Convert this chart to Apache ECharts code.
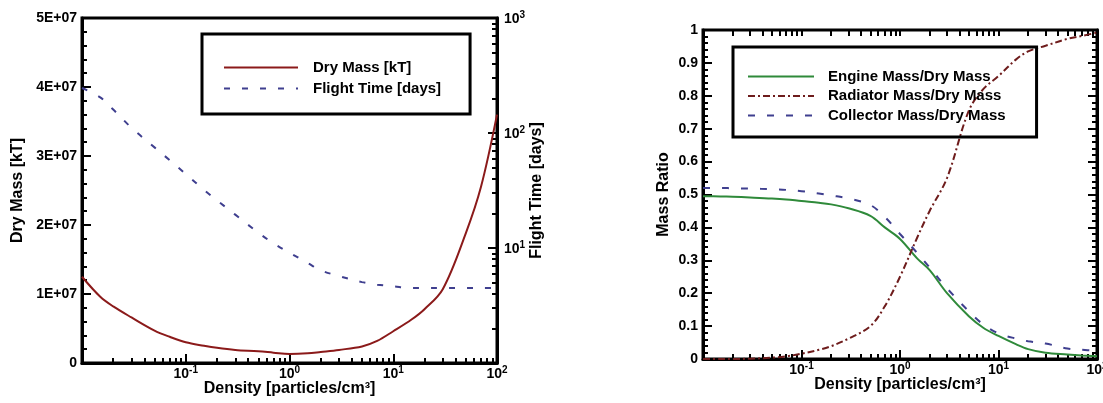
<!DOCTYPE html>
<html><head><meta charset="utf-8">
<script src="https://cdn.jsdelivr.net/npm/echarts@6/dist/echarts.min.js"></script>
<style>html,body{margin:0;padding:0;background:#fff}#c{width:1103px;height:403px}</style>
</head><body><div id="c"></div>
<script>
// ---------------- data ----------------
const density = [0.01,0.015,0.02,0.03,0.05,0.07,0.1,0.15,0.2,0.3,0.5,0.7,1,1.5,2,3,5,7,10,15,20,30,50,70,100];
// left chart
const dryMass = [1.25e7,0.96e7,0.82e7,0.66e7,0.47e7,0.38e7,0.30e7,0.25e7,0.22e7,0.19e7,0.17e7,0.15e7,0.13e7,0.14e7,0.16e7,0.19e7,0.24e7,0.32e7,0.46e7,0.63e7,0.78e7,1.07e7,1.88e7,2.55e7,3.6e7];
const flightTime = [246,204,160,111,75,58,44,32,26,19.5,13.6,11.0,9.1,7.4,6.4,5.7,5.05,4.8,4.65,4.5,4.5,4.5,4.5,4.5,4.5];
// right chart
const engineRatio = [0.495,0.494,0.493,0.491,0.488,0.485,0.48,0.475,0.47,0.458,0.435,0.40,0.365,0.305,0.27,0.20,0.13,0.095,0.07,0.045,0.03,0.019,0.014,0.011,0.008];
const radiatorRatio = [0,0,0,0.001,0.004,0.008,0.016,0.028,0.039,0.062,0.10,0.16,0.25,0.37,0.45,0.55,0.755,0.82,0.86,0.91,0.935,0.952,0.973,0.982,0.992];
const collectorRatio = [0.52,0.52,0.519,0.518,0.516,0.514,0.51,0.503,0.497,0.488,0.468,0.432,0.38,0.322,0.278,0.215,0.145,0.105,0.078,0.062,0.054,0.047,0.032,0.028,0.025];
// tick labels
const massTickLabels = ['0','1E+07','2E+07','3E+07','4E+07','5E+07'];
const legendLeft = ['Dry Mass [kT]','Flight Time [days]'];
const legendRight = ['Engine Mass/Dry Mass','Radiator Mass/Dry Mass','Collector Mass/Dry Mass'];

// ---------------- helpers ----------------
const FONT = '"Liberation Sans", Arial, sans-serif';
const pairs = (xs, ys) => xs.map((x, i) => [x, ys[i]]);
const supRich = {
  b: {fontFamily: FONT, fontWeight: 'bold', fontSize: 14, color: '#000', lineHeight: 16, verticalAlign: 'bottom'},
  s: {fontFamily: FONT, fontWeight: 'bold', fontSize: 10, color: '#000', lineHeight: 16, verticalAlign: 'top'}
};
const supFmt = v => '{b|10}{s|' + Math.round(Math.log10(v)) + '}';
const minorLog = (e0, e1) => { const r = []; for (let e = e0; e < e1; e++) for (let m = 2; m <= 9; m++) r.push(e + Math.log10(m)); return r; };
const AX = {color: '#000', width: 3};
const TK = {color: '#000', width: 2};
const labelStyle = {fontFamily: FONT, fontWeight: 'bold', fontSize: 14, color: '#000'};
const nameStyle = {fontFamily: FONT, fontWeight: 'bold', fontSize: 16, color: '#000'};
function tickOnly(gridIndex, min, max, position, values, len) {
  return {type: 'value', gridIndex, min, max, position, silent: true,
    axisLine: {show: false, onZero: false}, axisLabel: {show: false}, splitLine: {show: false},
    axisTick: {show: true, inside: true, length: len, customValues: values, lineStyle: TK}};
}
function logX(gridIndex) {
  return {type: 'log', gridIndex, min: 0.01, max: 100, position: 'bottom',
    axisLine: {show: true, onZero: false, lineStyle: AX}, splitLine: {show: false},
    axisTick: {show: true, inside: true, length: 9, lineStyle: TK},
    axisLabel: {formatter: supFmt, rich: supRich, margin: 2, showMinLabel: false},
    name: 'Density [particles/cm³]', nameLocation: 'middle', nameGap: 18, nameMoveOverlap: false, nameTextStyle: nameStyle};
}
const lineSeries = (name, xi, yi, ys, color, type) => ({
  name, type: 'line', xAxisIndex: xi, yAxisIndex: yi, data: pairs(density, ys),
  showSymbol: false, symbol: 'none', smooth: 0.35,
  lineStyle: {color, width: 2, type}, itemStyle: {color}
});
const legendBase = {orient: 'vertical', borderColor: '#000', borderWidth: 3,
  itemStyle: {opacity: 0}, lineStyle: {opacity: 1}};

const option = {
  animation: false,
  backgroundColor: '#fff',
  grid: [
    {left: 82, top: 18, width: 415, height: 345, show: true, borderColor: '#000', borderWidth: 3, outerBoundsMode: 'none'},
    {left: 703, top: 30, width: 394, height: 329, show: true, borderColor: '#000', borderWidth: 3, outerBoundsMode: 'none'}
  ],
  xAxis: [
    logX(0),
    tickOnly(0, -2, 2, 'bottom', minorLog(-2, 2), 5),
    logX(1),
    tickOnly(1, -2, 2, 'bottom', minorLog(-2, 2), 5),
    tickOnly(1, -2, 2, 'top', minorLog(-2, 2).concat([-1, 0, 1]), 6)
  ],
  yAxis: [
    {type: 'value', gridIndex: 0, min: 0, max: 5e7, interval: 1e7, position: 'left',
      axisLine: {show: true, onZero: false, lineStyle: AX}, splitLine: {show: false},
      axisTick: {show: true, inside: true, length: 9, lineStyle: TK},
      minorTick: {show: true, splitNumber: 5, length: 5, lineStyle: TK},
      axisLabel: Object.assign({margin: 5, formatter: v => massTickLabels[Math.round(v / 1e7)]}, labelStyle),
      name: 'Dry Mass [kT]', nameLocation: 'middle', nameGap: 56, nameRotate: 90, nameMoveOverlap: false, nameTextStyle: nameStyle},
    {type: 'log', gridIndex: 0, min: 1, max: 1000, position: 'right',
      axisLine: {show: true, onZero: false, lineStyle: AX}, splitLine: {show: false},
      axisTick: {show: true, inside: true, length: 9, lineStyle: TK},
      axisLabel: {formatter: supFmt, rich: supRich, margin: 7, showMinLabel: false},
      name: 'Flight Time [days]', nameLocation: 'middle', nameGap: 32, nameRotate: 90, nameMoveOverlap: false, nameTextStyle: nameStyle},
    tickOnly(0, 0, 3, 'right', minorLog(0, 3), 5),
    {type: 'value', gridIndex: 1, min: 0, max: 1, interval: 0.1, position: 'left',
      axisLine: {show: true, onZero: false, lineStyle: AX}, splitLine: {show: false},
      axisTick: {show: true, inside: true, length: 9, lineStyle: TK},
      minorTick: {show: true, splitNumber: 5, length: 5, lineStyle: TK},
      axisLabel: Object.assign({margin: 5, formatter: v => (v === 0 ? '0' : v === 1 ? '1' : v.toFixed(1))}, labelStyle),
      name: 'Mass Ratio', nameLocation: 'middle', nameGap: 31, nameRotate: 90, nameMoveOverlap: false, nameTextStyle: nameStyle},
    {type: 'value', gridIndex: 1, min: 0, max: 1, interval: 0.1, position: 'right',
      axisLine: {show: true, onZero: false, lineStyle: AX}, splitLine: {show: false},
      axisTick: {show: true, inside: true, length: 9, lineStyle: TK},
      minorTick: {show: true, splitNumber: 5, length: 5, lineStyle: TK},
      axisLabel: {show: false}}
  ],
  legend: [
    Object.assign({}, legendBase, {data: legendLeft, left: 202, top: 34, padding: [26, 29, 18, 21],
      itemWidth: 74, itemHeight: 14, itemGap: 6,
      textStyle: {fontFamily: FONT, fontWeight: 'bold', fontSize: 15, color: '#000', padding: [0, 0, 0, 10]}}),
    Object.assign({}, legendBase, {data: legendRight, left: 733, top: 47, padding: [22, 31, 14, 14],
      itemWidth: 66, itemHeight: 12, itemGap: 4.5,
      textStyle: {fontFamily: FONT, fontWeight: 'bold', fontSize: 15, color: '#000', padding: [0, 0, 0, 9]}})
  ],
  series: [
    lineSeries(legendLeft[0], 0, 0, dryMass, '#8b1a1a', 'solid'),
    lineSeries(legendLeft[1], 0, 1, flightTime, '#3f3f8f', [6, 12]),
    lineSeries(legendRight[0], 2, 3, engineRatio, '#2f8a3a', 'solid'),
    lineSeries(legendRight[1], 2, 3, radiatorRatio, '#6e1c1c', [7, 3, 2, 3]),
    lineSeries(legendRight[2], 2, 3, collectorRatio, '#3f3f8f', [7, 12])
  ]
};
const chart = echarts.init(document.getElementById('c'));
chart.setOption(option);
</script>
</body></html>
